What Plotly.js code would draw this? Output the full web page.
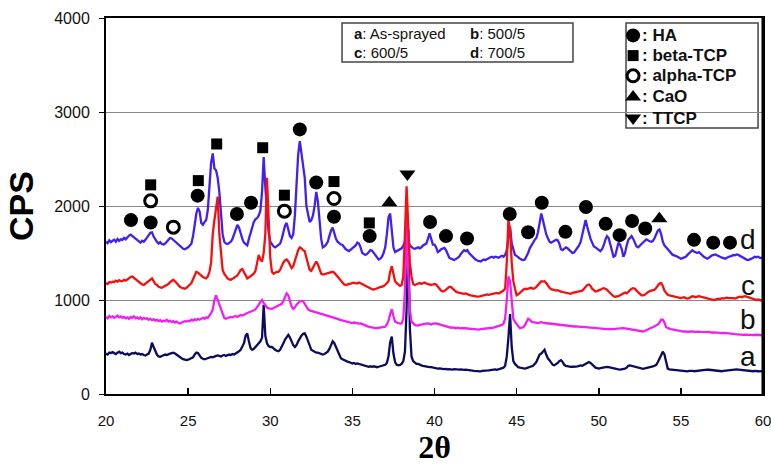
<!DOCTYPE html>
<html>
<head>
<meta charset="utf-8">
<script src="https://cdn.plot.ly/plotly-3.0.1.min.js"></script>
<style>html,body{margin:0;padding:0;background:#fff;}#chart{width:771px;height:467px;}</style>
</head>
<body>
<div id="chart"></div>
<script>
// Scan grid: 20.0 .. 60.0 deg 2-theta, 0.1 deg step
const startAngle = 20, stepAngle = 0.1, nPoints = 401;
const twoTheta = Array.from({length: nPoints}, (_, i) => +(startAngle + i * stepAngle).toFixed(1));

// d: 700/5 (blue)
const cps_d = [
1620,1605,1635,1615,1630,1640,1620,1650,1630,1645,
1640,1660,1645,1670,1685,1695,1680,1665,1650,1640,
1625,1610,1630,1620,1640,1660,1690,1715,1720,1675,
1640,1620,1600,1615,1595,1590,1600,1620,1640,1660,
1655,1640,1620,1600,1590,1570,1555,1545,1540,1550,
1560,1580,1600,1680,1800,1920,1980,1940,1820,1800,
1830,1850,1960,2200,2460,2560,2400,2380,2300,2150,
1900,1700,1620,1600,1595,1610,1620,1650,1700,1760,
1800,1770,1700,1650,1610,1590,1580,1650,1720,1790,
1830,1860,1870,1900,1950,2150,2520,2200,1900,1720,
1620,1590,1570,1560,1575,1590,1600,1650,1720,1790,
1820,1760,1680,1660,1700,1900,2250,2550,2690,2560,
2470,2300,2000,1900,1830,1850,1900,2000,2150,2050,
1800,1650,1560,1570,1590,1620,1680,1740,1770,1710,
1650,1620,1600,1590,1585,1560,1540,1530,1520,1535,
1550,1570,1580,1610,1600,1560,1500,1490,1480,1490,
1510,1530,1525,1500,1470,1450,1430,1440,1460,1500,
1560,1700,1880,1920,1700,1560,1510,1520,1530,1545,
1550,1580,1620,1870,1640,1580,1560,1550,1545,1555,
1560,1550,1560,1580,1590,1600,1650,1710,1650,1590,
1590,1560,1510,1520,1540,1550,1555,1530,1490,1450,
1440,1430,1425,1435,1450,1460,1490,1510,1530,1520,
1530,1500,1480,1460,1445,1430,1420,1415,1410,1420,
1430,1425,1440,1445,1455,1460,1450,1460,1455,1450,
1460,1470,1460,1480,1530,1650,1780,1600,1540,1480,
1470,1450,1440,1430,1425,1430,1460,1500,1550,1580,
1620,1640,1660,1720,1820,1920,1850,1760,1700,1660,
1620,1610,1625,1630,1640,1635,1600,1540,1530,1545,
1560,1550,1530,1510,1500,1505,1530,1550,1580,1620,
1700,1780,1850,1780,1700,1650,1610,1570,1560,1545,
1530,1520,1540,1580,1640,1680,1660,1600,1530,1460,
1470,1530,1610,1590,1540,1460,1500,1580,1640,1660,
1680,1650,1600,1570,1560,1580,1600,1620,1630,1645,
1630,1625,1620,1630,1660,1700,1740,1750,1700,1620,
1580,1560,1540,1520,1500,1480,1475,1470,1460,1450,
1440,1445,1455,1460,1480,1500,1520,1530,1515,1505,
1500,1510,1490,1470,1460,1450,1440,1450,1465,1475,
1480,1485,1475,1465,1455,1450,1445,1440,1450,1460,
1465,1470,1480,1475,1485,1480,1470,1460,1445,1435,
1430,1425,1430,1440,1450,1460,1455,1460,1450,1445,
1450];

// c: 600/5 (red)
const cps_c = [
1180,1170,1190,1185,1195,1190,1205,1195,1210,1200,
1200,1215,1205,1220,1235,1245,1250,1235,1215,1200,
1190,1180,1165,1160,1175,1190,1210,1225,1230,1200,
1170,1160,1140,1135,1130,1140,1150,1160,1170,1190,
1205,1215,1200,1180,1150,1140,1130,1125,1120,1130,
1150,1170,1180,1220,1260,1300,1290,1270,1260,1245,
1240,1230,1250,1300,1400,1700,1850,2000,2100,1700,
1500,1320,1280,1250,1230,1220,1215,1225,1240,1250,
1260,1290,1320,1330,1300,1260,1230,1240,1255,1270,
1280,1310,1400,1480,1430,1410,1500,1700,2300,1750,
1450,1300,1280,1290,1300,1300,1320,1360,1400,1420,
1430,1410,1370,1340,1360,1420,1480,1530,1560,1550,
1530,1520,1450,1380,1320,1310,1340,1380,1410,1380,
1320,1280,1270,1275,1280,1285,1290,1295,1300,1290,
1270,1250,1230,1200,1180,1165,1160,1165,1170,1175,
1180,1185,1180,1175,1185,1180,1170,1160,1150,1140,
1130,1120,1115,1110,1115,1120,1130,1140,1140,1150,
1160,1180,1200,1300,1360,1280,1200,1180,1160,1150,
1160,1250,1700,2210,1800,1400,1250,1170,1160,1170,
1175,1180,1170,1180,1185,1175,1170,1165,1160,1165,
1170,1165,1140,1120,1100,1090,1095,1110,1130,1140,
1140,1120,1100,1090,1080,1075,1070,1070,1065,1070,
1060,1055,1050,1045,1040,1040,1035,1035,1040,1045,
1050,1055,1060,1055,1060,1065,1070,1070,1075,1070,
1080,1090,1100,1120,1400,1850,1750,1400,1200,1120,
1050,1060,1080,1100,1110,1120,1115,1120,1125,1130,
1120,1125,1140,1160,1180,1200,1195,1200,1180,1150,
1130,1115,1110,1100,1100,1105,1095,1090,1085,1080,
1075,1070,1070,1065,1075,1080,1085,1090,1090,1095,
1100,1120,1140,1160,1165,1150,1120,1100,1090,1095,
1100,1110,1120,1125,1120,1110,1090,1070,1050,1040,
1035,1035,1040,1050,1060,1070,1080,1070,1090,1110,
1120,1125,1120,1100,1080,1060,1050,1050,1055,1070,
1085,1095,1100,1105,1110,1130,1160,1175,1180,1150,
1100,1070,1055,1050,1045,1040,1035,1030,1030,1025,
1020,1025,1030,1020,1015,1020,1030,1040,1035,1030,
1035,1040,1035,1030,1025,1020,1015,1010,1005,1000,
1000,1005,1010,1015,1010,1020,1015,1020,1025,1020,
1020,1025,1020,1015,1025,1030,1035,1030,1035,1040,
1035,1030,1020,1015,1010,1005,1000,1005,1000,995,
1000];

// b: 500/5 (magenta)
const cps_b = [
820,805,830,815,825,810,820,835,815,825,
810,820,805,815,800,820,810,825,805,815,
800,815,795,810,800,805,790,800,785,795,
780,790,775,785,770,780,775,790,770,780,
765,775,760,770,755,750,760,765,775,770,
780,775,790,780,795,785,800,790,805,810,
800,815,810,830,860,900,1000,1050,1000,950,
900,850,810,800,805,810,820,815,825,830,
820,830,840,835,845,850,860,870,875,880,
890,900,920,950,980,1000,970,940,920,910,
910,905,915,925,935,940,950,960,990,1040,
1070,1050,990,930,905,920,950,970,985,990,
985,960,930,900,890,885,880,870,865,860,
860,855,850,845,840,835,825,820,815,810,
805,800,790,785,780,775,770,765,760,758,
755,760,755,750,748,750,745,740,730,720,
715,710,705,700,700,702,705,710,715,712,
715,740,780,850,900,830,770,760,750,748,
750,800,1100,1950,1300,900,770,750,735,730,
728,735,740,745,742,748,750,745,740,748,
752,750,745,740,738,730,720,715,712,708,
705,708,702,700,705,700,698,702,700,703,
700,698,695,690,692,688,690,685,690,692,
695,698,700,705,702,700,706,710,715,720,
725,735,750,800,1000,1250,1200,950,800,770,
740,720,700,705,710,730,760,800,790,770,
765,760,758,755,760,765,760,755,752,750,
750,748,745,742,740,738,735,730,732,730,
728,726,725,722,720,718,720,716,715,715,
714,712,710,712,708,706,705,703,702,700,
700,698,695,693,692,690,692,690,688,690,
692,695,698,700,702,700,698,695,690,685,
680,678,675,672,670,668,666,665,670,680,
690,700,705,710,720,725,740,760,790,790,
760,710,700,695,690,685,680,675,672,670,
668,665,668,665,662,665,668,665,660,662,
660,662,660,658,660,655,658,660,655,652,
655,652,650,653,650,648,650,647,650,648,
645,642,640,638,635,638,635,632,630,632,
630,632,628,630,627,630,628,626,630,628,
625];

// a: As-sprayed (navy)
const cps_a = [
430,420,440,435,445,430,425,440,450,435,
440,425,420,430,415,425,435,430,440,425,
430,420,425,415,410,420,430,470,545,500,
450,420,400,395,405,410,420,415,425,430,
435,440,430,415,400,390,380,370,365,360,
365,375,380,390,420,440,435,410,385,375,
370,375,380,390,395,390,400,405,410,405,
400,410,415,405,410,420,415,425,420,430,
440,455,470,500,540,620,645,560,490,470,
480,500,520,540,560,600,950,620,540,510,
500,500,480,470,460,455,470,500,540,580,
600,630,600,560,520,500,520,560,600,620,
640,645,610,560,510,470,460,450,440,440,
435,430,420,425,440,450,480,520,560,540,
500,450,410,380,370,360,350,345,340,330,
325,330,320,325,320,315,310,305,300,295,
290,295,290,295,290,285,290,295,300,305,
310,330,400,550,610,430,340,310,305,310,
320,350,450,900,1750,700,400,350,330,320,
320,310,305,300,295,290,290,285,285,280,
280,275,270,272,268,270,265,268,262,265,
262,260,265,262,258,260,262,258,256,260,
255,252,250,248,245,242,240,242,240,245,
245,248,250,252,255,258,260,262,258,262,
265,270,280,300,400,600,850,500,350,320,
300,285,280,275,272,270,275,280,285,290,
300,320,340,380,420,430,450,470,420,380,
360,330,310,305,315,330,350,360,340,310,
300,295,290,288,290,295,292,295,300,305,
300,310,320,335,340,330,310,290,280,275,
270,275,280,285,290,288,285,280,278,275,
270,265,262,260,262,265,270,280,300,305,
300,290,285,280,275,272,270,268,272,275,
280,285,290,295,300,310,340,380,420,450,
420,330,270,262,260,258,255,252,250,248,
245,242,240,242,240,245,248,245,242,245,
248,250,255,258,260,262,260,258,255,252,
250,248,245,242,240,242,245,248,250,252,
255,258,260,258,262,260,258,255,252,250,
248,245,242,240,242,245,240,242,240,245,
245];

// Phase markers (2theta, CPS)
const HA_x = [21.52,22.72,25.58,27.97,28.83,31.8,32.8,33.88,36.05,39.73,40.7,41.98,44.58,45.7,46.53,47.97,49.22,50.42,51.27,52.03,52.83,55.8,56.97,57.99];
const HA_y = [1850,1825,2110,1915,2035,2815,2250,1885,1680,1830,1680,1655,1915,1720,2035,1725,1990,1810,1690,1840,1760,1640,1610,1610];
const betaTCP_x = [22.72,25.62,26.74,29.54,30.86,33.88,36.03];
const betaTCP_y = [2225,2270,2660,2620,2115,2260,1820];
const alphaTCP_x = [22.72,24.1,30.86,33.88];
const alphaTCP_y = [2055,1775,1945,2080];
const CaO_x = [37.25,53.69];
const CaO_y = [2035,1865];
const TTCP_x = [38.35];
const TTCP_y = [2340];

const sampleNames = ['a','b','c','d'];
const sampleConditions = ['As-sprayed','500/5','600/5','700/5'];
const phaseNames = ['HA','beta-TCP','alpha-TCP','CaO','TTCP'];
const yTicks = [0,1000,2000,3000,4000];
const xTicks = [20,25,30,35,40,45,50,55,60];

const colors = {a:'#0c0c5e', b:'#f020f0', c:'#f41010', d:'#4320f0'};

function line(y, color, name) {
  return {x: twoTheta, y: y, type: 'scatter', mode: 'lines', name: name,
          line: {color: color, width: 2.3}, hoverinfo: 'skip'};
}
const traces = [
  line(cps_d, colors.d, 'd'),
  line(cps_a, colors.a, 'a'),
  line(cps_b, colors.b, 'b'),
  line(cps_c, colors.c, 'c')
];

const markerStyles = [
  {symbol: 'circle', size: 14, color: '#000', line: {width: 0}},
  {symbol: 'square', size: 11, color: '#000', line: {width: 0}},
  {symbol: 'circle-open', size: 12, color: '#000', line: {width: 3, color: '#000'}},
  {symbol: 'triangle-up', size: 14, color: '#000', line: {width: 0}},
  {symbol: 'triangle-down', size: 14, color: '#000', line: {width: 0}}
];
const phaseData = [[HA_x,HA_y],[betaTCP_x,betaTCP_y],[alphaTCP_x,alphaTCP_y],[CaO_x,CaO_y],[TTCP_x,TTCP_y]];
phaseData.forEach((p, i) => {
  traces.push({x: p[0], y: p[1], type: 'scatter', mode: 'markers', name: phaseNames[i],
               marker: markerStyles[i], cliponaxis: false, hoverinfo: 'skip'});
});

// Legend (box 2) symbols, placed in the legend box (layout positions)
const legend2X = 52.09;
const legend2Y = [3815, 3600, 3385, 3160, 2935];
phaseNames.forEach((n, i) => {
  const st = Object.assign({}, markerStyles[i]);
  traces.push({x: [legend2X], y: [legend2Y[i]], type: 'scatter', mode: 'markers',
               marker: st, hoverinfo: 'skip', cliponaxis: false});
});

const annotations = [];
// Legend box 1 text
const l1x = [34.96, 42.06, 34.96, 42.06];
const l1y = [3830, 3830, 3635, 3635];
sampleNames.forEach((s, i) => {
  annotations.push({x: l1x[i], y: l1y[i], xref: 'x', yref: 'y', xanchor: 'left', yanchor: 'middle',
    text: '<b>' + s + '</b>: ' + sampleConditions[i], showarrow: false,
    font: {family: 'Liberation Sans, Arial, sans-serif', size: 15, color: '#111'}});
});
// Legend box 2 text
phaseNames.forEach((n, i) => {
  annotations.push({x: 52.5, y: legend2Y[i], xref: 'x', yref: 'y', xanchor: 'left', yanchor: 'middle',
    text: '<b>: ' + n + '</b>', showarrow: false,
    font: {family: 'Liberation Sans, Arial, sans-serif', size: 17, color: '#111'}});
});
// Curve labels
const labelY = [395, 790, 1150, 1640];
sampleNames.forEach((s, i) => {
  annotations.push({x: 59.1, y: labelY[i], xref: 'x', yref: 'y', xanchor: 'center', yanchor: 'middle',
    text: s, showarrow: false,
    font: {family: 'Liberation Sans, Arial, sans-serif', size: 28, color: '#111'}});
});

const shapes = [
  {type: 'rect', xref: 'x', yref: 'y', x0: 34.37, x1: 48.43, y0: 3532, y1: 3947,
   line: {color: '#444', width: 1.5}, fillcolor: 'rgba(255,255,255,0)'},
  {type: 'rect', xref: 'x', yref: 'y', x0: 51.66, x1: 59.70, y0: 2830, y1: 3947,
   line: {color: '#444', width: 1.5}, fillcolor: '#fff', layer: 'below'},
  {type: 'line', xref: 'paper', yref: 'paper', x0: 1, x1: 1, y0: 0, y1: 1,
   line: {color: '#000', width: 3}}
];

const layout = {
  width: 771, height: 467,
  margin: {l: 106, r: 8, t: 18, b: 73},
  paper_bgcolor: '#fff', plot_bgcolor: '#fff',
  showlegend: false,
  font: {family: 'Liberation Sans, Arial, sans-serif', color: '#111'},
  xaxis: {
    range: [20, 60], tickvals: xTicks, ticktext: xTicks.map(String),
    ticks: 'inside', ticklen: 6, tickwidth: 1.5, tickcolor: '#000',
    showline: true, linecolor: '#000', linewidth: 2, mirror: true,
    showgrid: false, zeroline: false, ticklabeloverflow: 'allow',
    tickfont: {size: 15, color: '#111'}, ticklabelstandoff: 12,
    title: {text: '<b>2θ</b>', font: {family: 'Liberation Serif, Times New Roman, serif', size: 32, color: '#000'}, standoff: 4}
  },
  yaxis: {
    range: [0, 4000], tickvals: yTicks, ticktext: yTicks.map(String),
    ticks: 'outside', ticklen: 5, tickwidth: 1, tickcolor: '#000',
    showline: true, linecolor: '#000', linewidth: 2, mirror: true,
    showgrid: true, gridcolor: '#888', gridwidth: 1, zeroline: false,
    tickfont: {size: 16, color: '#111'}, ticklabelstandoff: 6,
    title: {text: '<b>CPS</b>', font: {family: 'Liberation Sans, Arial, sans-serif', size: 34, color: '#000'}, standoff: 10}
  },
  annotations: annotations,
  shapes: shapes
};

Plotly.newPlot('chart', traces, layout, {staticPlot: true, displayModeBar: false});
</script>
</body>
</html>
